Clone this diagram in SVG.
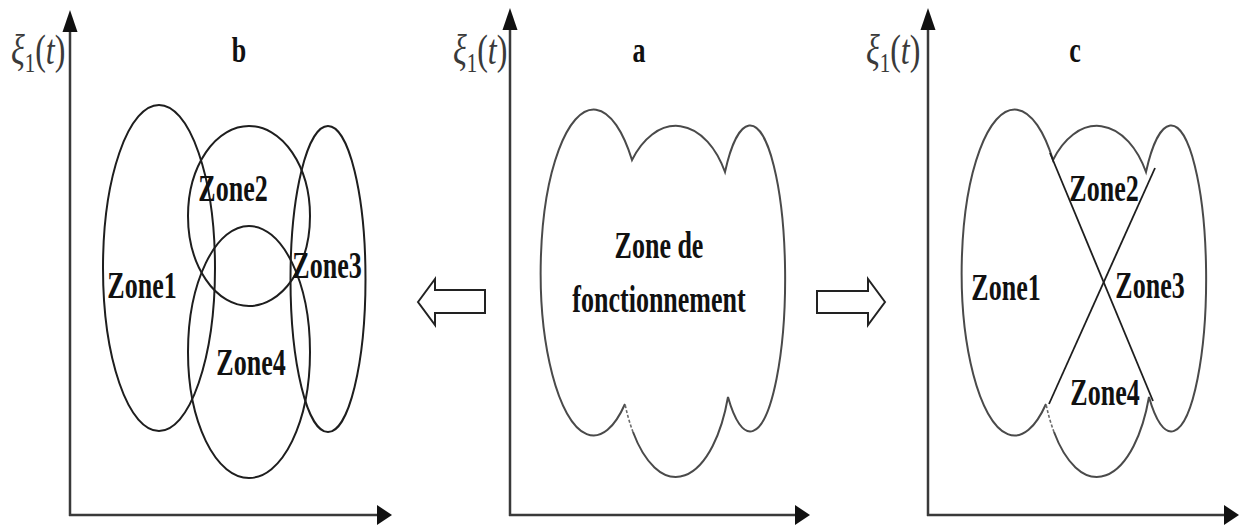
<svg xmlns="http://www.w3.org/2000/svg" width="1246" height="528" viewBox="0 0 1246 528">
<style>
.axis{stroke:#3a3a3a;stroke-width:2.5;fill:none}
.head{fill:#111}
.shape{fill:none;stroke:#1e1e1e;stroke-width:2}
.cloud{fill:none;stroke:#4a4a4a;stroke-width:2}
.dash{fill:none;stroke:#6a6a6a;stroke-width:1.6;stroke-dasharray:3 2}
.xline{fill:none;stroke:#1e1e1e;stroke-width:1.8}
.lbl{font-family:"Liberation Serif","Times New Roman",serif;font-weight:bold;font-size:26px;fill:#111;text-anchor:middle}
.xi{font-family:"Liberation Serif","Times New Roman",serif;font-size:32px;fill:#3a3a3a}
.blk{fill:#fff;stroke:#222;stroke-width:2}
</style>
<defs>
<path id="cloudMain" d="M625,404 A53,163 0 1 1 632,160 A57,94 0 0 1 725,172 A35,153 0 1 1 728,397 A56,126 0 0 1 633,432"/>
<path id="cloudDash" d="M633,432 A56,126 0 0 1 625,404"/>
</defs>
<rect width="1246" height="528" fill="#fff"/>

<g id="panel-b">
<line class="axis" x1="70" y1="516" x2="70" y2="28"/>
<path class="head" d="M70,10 L62.5,32 L77.5,32 Z"/>
<line class="axis" x1="69" y1="515" x2="380" y2="515"/>
<path class="head" d="M392,515 L377,505 L377,525 Z"/>
<text class="xi" transform="translate(11,64) scale(1,1.3)"><tspan font-style="italic">ξ</tspan><tspan font-size="21" dy="6">1</tspan><tspan dy="-6">(</tspan><tspan font-style="italic">t</tspan>)</text>
<text class="lbl" transform="translate(239,62) scale(1,1.4)">b</text>
<ellipse class="shape" cx="159" cy="268" rx="56" ry="163"/>
<ellipse class="shape" cx="249" cy="216" rx="61" ry="90"/>
<ellipse class="shape" cx="249" cy="352" rx="61" ry="126"/>
<ellipse class="shape" cx="328" cy="279" rx="37.5" ry="153"/>
<text class="lbl" transform="translate(142,298) scale(1,1.45)">Zone1</text>
<text class="lbl" transform="translate(233,201) scale(1,1.45)">Zone2</text>
<text class="lbl" transform="translate(327,278) scale(1,1.45)">Zone3</text>
<text class="lbl" transform="translate(251,375) scale(1,1.45)">Zone4</text>
</g>

<g id="panel-a">
<line class="axis" x1="510" y1="516" x2="510" y2="26"/>
<path class="head" d="M510,8 L502.5,30 L517.5,30 Z"/>
<line class="axis" x1="509" y1="515" x2="798" y2="515"/>
<path class="head" d="M810,515 L795,505 L795,525 Z"/>
<text class="xi" transform="translate(453,64) scale(1,1.3)"><tspan font-style="italic">ξ</tspan><tspan font-size="21" dy="6">1</tspan><tspan dy="-6">(</tspan><tspan font-style="italic">t</tspan>)</text>
<text class="lbl" transform="translate(639,62) scale(1,1.4)">a</text>
<use href="#cloudMain" class="cloud"/>
<use href="#cloudDash" class="dash"/>
<text class="lbl" transform="translate(659,258) scale(1,1.45)">Zone de</text>
<text class="lbl" transform="translate(659,312) scale(1,1.45)">fonctionnement</text>
</g>

<g id="panel-c">
<line class="axis" x1="928" y1="516" x2="928" y2="26"/>
<path class="head" d="M928,8 L920.5,30 L935.5,30 Z"/>
<line class="axis" x1="927" y1="515" x2="1227" y2="515"/>
<path class="head" d="M1239,515 L1224,505 L1224,525 Z"/>
<text class="xi" transform="translate(866,64) scale(1,1.3)"><tspan font-style="italic">ξ</tspan><tspan font-size="21" dy="6">1</tspan><tspan dy="-6">(</tspan><tspan font-style="italic">t</tspan>)</text>
<text class="lbl" transform="translate(1075,62) scale(1,1.4)">c</text>
<g transform="translate(421,0)">
<use href="#cloudMain" class="cloud"/>
<use href="#cloudDash" class="dash"/>
</g>
<line class="xline" x1="1050" y1="153" x2="1153" y2="401"/>
<line class="xline" x1="1155" y1="168" x2="1049" y2="404"/>
<text class="lbl" transform="translate(1006,300) scale(1,1.45)">Zone1</text>
<text class="lbl" transform="translate(1104,201) scale(1,1.45)">Zone2</text>
<text class="lbl" transform="translate(1150,298) scale(1,1.45)">Zone3</text>
<text class="lbl" transform="translate(1105,405) scale(1,1.45)">Zone4</text>
</g>

<g id="connectors">
<polygon class="blk" points="418,302 435,279 435,290 485,290 485,313 435,313 435,325"/>
<polygon class="blk" points="885,302 868,279 868,291 817,291 817,313 868,313 868,325"/>
</g>
</svg>
